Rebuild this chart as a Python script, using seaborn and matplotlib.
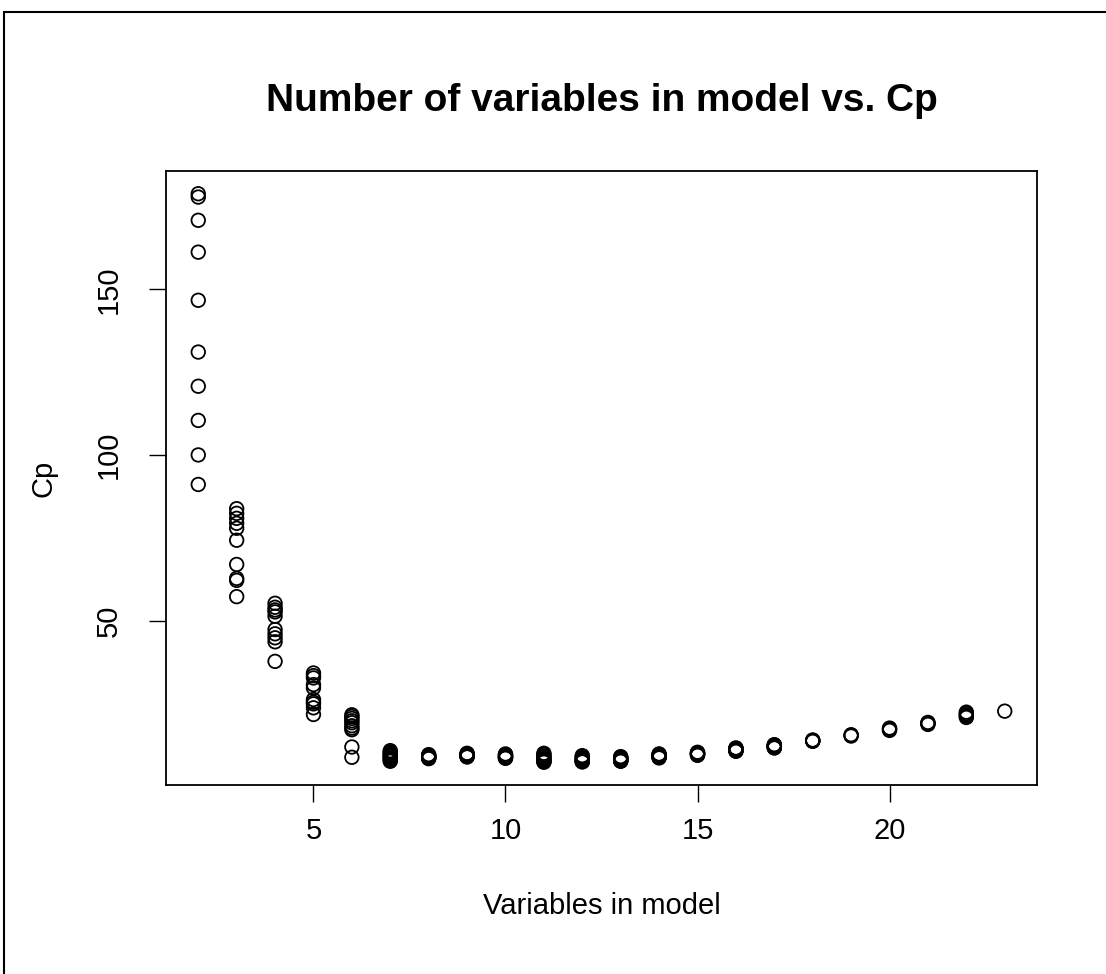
import numpy as np
import pandas as pd
import matplotlib
matplotlib.use("Agg")
import matplotlib.pyplot as plt
from matplotlib.patches import Rectangle
import seaborn as sns

# ---- data ----
n_vars = [2, 3, 4, 5, 6, 7, 8, 9, 10, 11, 12, 13, 14, 15, 16, 17, 18, 19, 20, 21, 22, 23]
cp_2 = [178.8, 177.8, 170.8, 161.2, 146.7, 131.1, 120.8, 110.5, 100.1, 91.2]
cp_3 = [83.9, 82.5, 81.0, 79.5, 78.0, 74.4, 67.1, 62.9, 62.3, 57.4]
cp_4 = [55.4, 54.2, 53.4, 52.8, 51.5, 47.5, 46.2, 45.0, 43.8, 37.9]
cp_5 = [34.4, 33.6, 32.9, 30.9, 29.9, 26.4, 25.6, 25.1, 23.9, 21.9]
cp_6 = [21.8, 21.3, 20.7, 20.0, 19.4, 18.5, 17.8, 17.3, 12.1, 9.0]
cp_7 = [11.0, 10.6, 10.2, 9.8, 9.5, 9.2, 8.8, 8.5, 8.1, 7.8]
cp_8 = [9.8, 9.6, 9.4, 9.3, 9.2, 9.1, 9.0, 8.8, 8.7, 8.6]
cp_9 = [10.2, 10.0, 9.9, 9.8, 9.6, 9.5, 9.4, 9.3, 9.2, 9.1]
cp_10 = [10.0, 9.8, 9.6, 9.5, 9.3, 9.2, 9.0, 8.9, 8.8, 8.7]
cp_11 = [10.2, 9.8, 9.4, 9.0, 8.7, 8.4, 8.1, 7.9, 7.7, 7.5]
cp_12 = [9.5, 9.2, 8.9, 8.6, 8.3, 8.1, 7.9, 7.8, 7.7, 7.6]
cp_13 = [9.2, 9.0, 8.8, 8.6, 8.4, 8.3, 8.1, 8.0, 7.9, 7.8]
cp_14 = [10.0, 9.9, 9.7, 9.6, 9.5, 9.4, 9.2, 9.1, 9.0, 8.8]
cp_15 = [10.5, 10.4, 10.3, 10.2, 10.1, 10.0, 9.9, 9.8, 9.7, 9.6]
cp_16 = [11.8, 11.7, 11.6, 11.5, 11.4, 11.3, 11.2, 11.0, 10.9, 10.8]
cp_17 = [12.8, 12.7, 12.6, 12.5, 12.4, 12.3, 12.1, 12.0, 11.9, 11.8]
cp_18 = [14.2, 14.1, 14.0, 13.9, 13.8]
cp_19 = [15.8, 15.6, 15.4]
cp_20 = [17.8, 17.6, 17.4, 17.1]
cp_21 = [19.5, 19.3, 19.1, 18.9]
cp_22 = [22.6, 22.2, 21.8, 21.4, 21.0]
cp_23 = [22.9]

cp_by_size = [cp_2, cp_3, cp_4, cp_5, cp_6, cp_7, cp_8, cp_9, cp_10, cp_11, cp_12,
              cp_13, cp_14, cp_15, cp_16, cp_17, cp_18, cp_19, cp_20, cp_21, cp_22, cp_23]

x_ticks = [5, 10, 15, 20]
y_ticks = [50, 100, 150]

title = "Number of variables in model vs. Cp"
x_label = "Variables in model"
y_label = "Cp"

rows = []
for n, vals in zip(n_vars, cp_by_size):
    for v in vals:
        rows.append((n, v))
df = pd.DataFrame(rows, columns=["nvars", "cp"])

# ---- figure ----
sns.set_style("white")
plt.rcParams["font.family"] = ["Liberation Sans", "DejaVu Sans"]
plt.rcParams["text.color"] = "black"
plt.rcParams["axes.labelcolor"] = "black"
plt.rcParams["xtick.color"] = "black"
plt.rcParams["ytick.color"] = "black"

W, H = 1106, 974
fig = plt.figure(figsize=(W / 100, H / 100), dpi=100)
ax = fig.add_axes([166 / W, 1 - 785 / H, (1037 - 166) / W, (785 - 171) / H])

sns.scatterplot(data=df, x="nvars", y="cp", ax=ax, marker="o", s=95,
                facecolor="none", edgecolor="black", linewidth=1.3)

ax.margins(x=0.04, y=0.04)
ax.set_xticks(x_ticks)
ax.set_yticks(y_ticks)
ax.set_xticklabels([str(t) for t in x_ticks])
ax.set_yticklabels([str(t) for t in y_ticks], rotation=90, va="center")

for sp in ax.spines.values():
    sp.set_visible(True)
    sp.set_color("black")
    sp.set_linewidth(1.3)

ax.tick_params(axis="both", which="major", direction="out", length=12,
               width=1.0, color="black", labelsize=21, labelcolor="black",
               bottom=True, left=True, top=False, right=False)
ax.tick_params(axis="x", pad=11)
ax.tick_params(axis="y", pad=19)

ax.set_xlabel(x_label, fontsize=21, labelpad=34, color="black")
ax.set_ylabel(y_label, fontsize=21, labelpad=27, color="black")
fig.text((166 + 1037) / 2 / W, 1 - 101 / H, title, ha="center", va="center",
         fontsize=28, fontweight="bold", color="black")

# outer device border (cut off at right and bottom)
fig.patches.append(Rectangle((4 / W, -0.05), 1.2, (1 - 12 / H) + 0.05,
                             transform=fig.transFigure, fill=False,
                             edgecolor="black", linewidth=1.5))

fig.savefig("out.png", dpi=100)
